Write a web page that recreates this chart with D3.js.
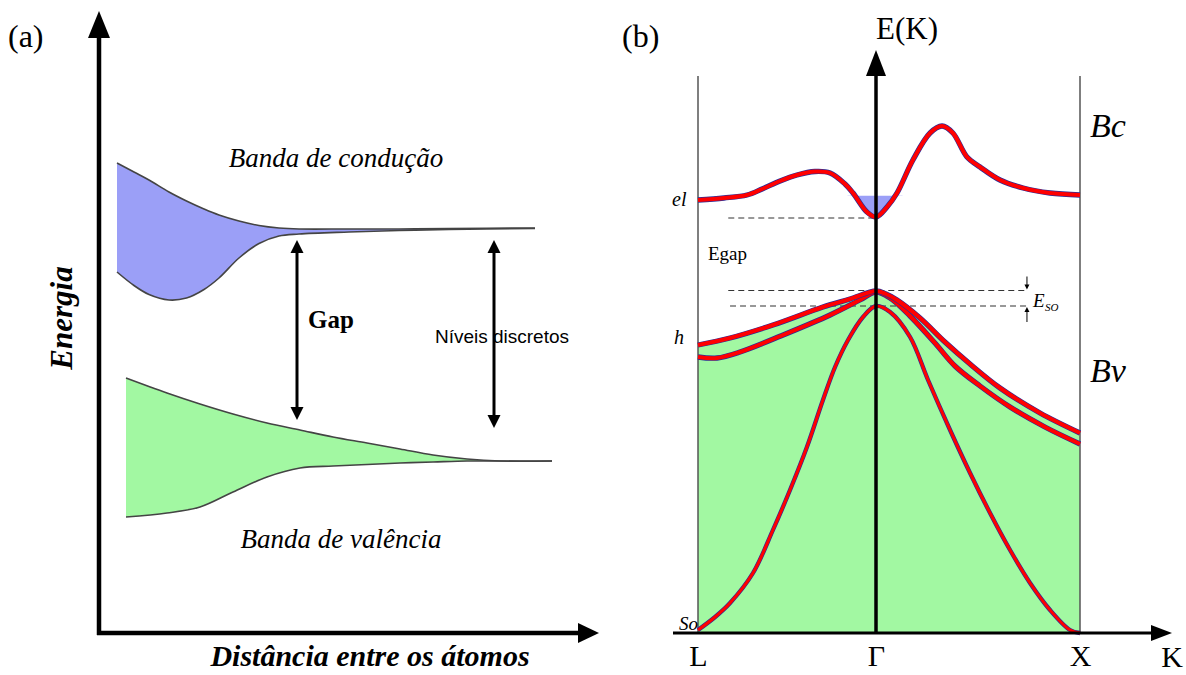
<!DOCTYPE html>
<html>
<head>
<meta charset="utf-8">
<script src="https://cdn.jsdelivr.net/npm/d3@7"></script>
<style>
  body { margin: 0; background: #fff; }
  svg { display: block; }
  text { font-family: "Liberation Serif", "Times New Roman", serif; fill: #000; }
</style>
</head>
<body>
<div id="chart"></div>
<script>
// ---------- panel (a): energy bands vs interatomic distance ----------
var distCond = [0.36, 0.7, 1.0, 1.4, 1.75, 2.1, 2.4, 2.8, 3.2, 3.6, 4.0, 5.0, 6.0, 7.0, 8.72];
var condTop  = [9.40, 9.22, 9.06, 8.82, 8.64, 8.48, 8.36, 8.24, 8.15, 8.10, 8.08, 8.08, 8.08, 8.09, 8.10];
var condBot  = [7.22, 6.95, 6.77, 6.66, 6.70, 6.87, 7.10, 7.50, 7.79, 7.94, 7.98, 8.02, 8.05, 8.07, 8.09];

var distVal = [0.54, 1.36, 2.02, 2.68, 3.36, 4.02, 4.68, 5.36, 6.02, 6.68, 7.36, 8.02, 9.06];
var valTop  = [5.10, 4.80, 4.58, 4.38, 4.20, 4.06, 3.92, 3.80, 3.68, 3.56, 3.48, 3.44, 3.44];
var valBot  = [2.32, 2.40, 2.52, 2.82, 3.12, 3.30, 3.34, 3.37, 3.40, 3.42, 3.44, 3.44, 3.44];

// double arrows: "Gap" and "Níveis discretos"
var arrowDist = [3.96, 7.9];
var arrowTop  = [7.86, 7.86];
var arrowBot  = [4.26, 4.10];

// ---------- panel (b): E(K) band structure ----------
var kTicks = [-1, 0, 1];
var kNames = ["L", "Γ", "X"];

var kCond = [-1, -0.854, -0.725, -0.640, -0.539, -0.444, -0.343, -0.258, -0.174, -0.129, -0.051, 0, 0.054, 0.103, 0.181, 0.265, 0.324, 0.377, 0.446, 0.510, 0.608, 0.721, 0.853, 1];
var eCond = [8.66, 8.70, 8.76, 8.88, 9.04, 9.16, 9.23, 9.20, 8.98, 8.80, 8.42, 8.32, 8.52, 8.80, 9.46, 10.00, 10.14, 10.00, 9.52, 9.32, 9.06, 8.90, 8.80, 8.76];
var wellLevel = 8.75;
var wellK = [-0.16, 0.13];

var kHH = [-1, -0.820, -0.579, -0.298, -0.146, 0, 0.049, 0.103, 0.216, 0.338, 0.461, 0.608, 0.804, 1];
var eHH = [5.76, 5.90, 6.16, 6.52, 6.68, 6.84, 6.78, 6.66, 6.30, 5.82, 5.38, 4.90, 4.40, 4.00];

var kLH = [-1, -0.893, -0.764, -0.522, -0.258, -0.090, 0, 0.069, 0.167, 0.289, 0.387, 0.510, 0.657, 0.828, 1];
var eLH = [5.52, 5.50, 5.62, 5.96, 6.36, 6.66, 6.82, 6.70, 6.34, 5.80, 5.34, 4.94, 4.52, 4.12, 3.78];

var kSO = [-1, -0.904, -0.820, -0.691, -0.579, -0.483, -0.388, -0.298, -0.230, -0.157, -0.073, 0, 0.069, 0.167, 0.255, 0.363, 0.461, 0.559, 0.657, 0.755, 0.853, 0.951, 1];
var eSO = [0.06, 0.32, 0.60, 1.20, 2.06, 2.86, 3.72, 4.66, 5.32, 5.86, 6.32, 6.54, 6.42, 5.92, 5.06, 4.06, 3.20, 2.40, 1.66, 1.00, 0.46, 0.06, 0.00];

// dashed reference levels (conduction minimum, valence top, split-off top)
var dashE  = [8.30, 6.85, 6.54];
var dashK0 = [-0.83, -0.83, -0.82];
var dashK1 = [0, 0.74, 0.74];
var esoK = 0.74;

var svgWidth = 1186, svgHeight = 675;
var svg = d3.select("#chart").append("svg")
  .attr("width", svgWidth)
  .attr("height", svgHeight);
svg.append("rect").attr("width", svgWidth).attr("height", svgHeight).attr("fill", "#fff");

var zip = (xs, ys) => xs.map((x, i) => [x, ys[i]]);
var smooth = d3.curveCatmullRom.alpha(0.5);

// ================= panel (a) =================
var xA = d3.scaleLinear().domain([0, 10]).range([99, 599]);
var yA = d3.scaleLinear().domain([0, 12.4]).range([633, 13]);
var gA = svg.append("g");

function drawBand(dist, top, bot, fill) {
  var rows = dist.map((d, i) => ({ d: d, t: top[i], b: bot[i] }));
  gA.append("path")
    .attr("d", d3.area().x(r => xA(r.d)).y0(r => yA(r.b)).y1(r => yA(r.t)).curve(smooth)(rows))
    .attr("fill", fill);
  [top, bot].forEach(function(arr) {
    gA.append("path")
      .attr("d", d3.line().x(r => xA(r.d)).y(r => yA(arr === top ? r.t : r.b)).curve(smooth)(rows))
      .attr("fill", "none")
      .attr("stroke", "#444")
      .attr("stroke-width", 1.6);
  });
}
drawBand(distCond, condTop, condBot, "#9b9ff7");
drawBand(distVal, valTop, valBot, "#a2f8a2");

// double-headed arrows
arrowDist.forEach(function(d, i) {
  var x = xA(d), y0 = yA(arrowTop[i]), y1 = yA(arrowBot[i]);
  gA.append("line").attr("x1", x).attr("x2", x).attr("y1", y0 + 8).attr("y2", y1 - 8)
    .attr("stroke", "#000").attr("stroke-width", 3);
  gA.append("path").attr("d", `M${x},${y0} L${x - 6.5},${y0 + 13} L${x + 6.5},${y0 + 13} Z`).attr("fill", "#000");
  gA.append("path").attr("d", `M${x},${y1} L${x - 6.5},${y1 - 13} L${x + 6.5},${y1 - 13} Z`).attr("fill", "#000");
});

// axes of (a)
gA.append("line").attr("x1", xA(0)).attr("x2", xA(0)).attr("y1", yA(0) + 2).attr("y2", 34)
  .attr("stroke", "#000").attr("stroke-width", 4.5);
gA.append("path").attr("d", `M${xA(0)},11 L${xA(0) - 11},38 L${xA(0) + 11},38 Z`).attr("fill", "#000");
gA.append("line").attr("x1", xA(0) - 2).attr("x2", 582).attr("y1", yA(0)).attr("y2", yA(0))
  .attr("stroke", "#000").attr("stroke-width", 4.5);
gA.append("path").attr("d", `M599,${yA(0)} L578,${yA(0) - 10} L578,${yA(0) + 10} Z`).attr("fill", "#000");

gA.append("text").attr("x", 8).attr("y", 47).attr("font-size", 32).text("(a)");
gA.append("text")
  .attr("transform", "translate(72,318) rotate(-90)")
  .attr("text-anchor", "middle")
  .attr("font-size", 31).attr("font-weight", "bold").attr("font-style", "italic")
  .text("Energia");
gA.append("text").attr("x", 370).attr("y", 666).attr("text-anchor", "middle")
  .attr("font-size", 30).attr("font-weight", "bold").attr("font-style", "italic")
  .text("Distância entre os átomos");
gA.append("text").attr("x", 336).attr("y", 167).attr("text-anchor", "middle")
  .attr("font-size", 27).attr("font-style", "italic").attr("fill", "#1a1a1a")
  .text("Banda de condução");
gA.append("text").attr("x", 341).attr("y", 548).attr("text-anchor", "middle")
  .attr("font-size", 27).attr("font-style", "italic").attr("fill", "#1a1a1a")
  .text("Banda de valência");
gA.append("text").attr("x", 308).attr("y", 328)
  .attr("font-size", 25).attr("font-weight", "bold")
  .text("Gap");
gA.append("text").attr("x", 502).attr("y", 343).attr("text-anchor", "middle")
  .style("font-family", "'Liberation Sans', Arial, sans-serif")
  .attr("font-size", 19).attr("fill", "#222")
  .text("Níveis discretos");

// ================= panel (b) =================
var xB = d3.scaleLinear().domain([-1, 0, 1]).range([698, 876, 1080]);
var yB = d3.scaleLinear().domain([0, 11]).range([633, 83]);
var gB = svg.append("g");

var bandLine = d3.line().x(d => xB(d[0])).y(d => yB(d[1])).curve(smooth);

// green valence region under the heavy-hole band
gB.append("path")
  .attr("d", d3.area().x(d => xB(d[0])).y0(yB(0)).y1(d => yB(d[1])).curve(smooth)(zip(kHH, eHH)))
  .attr("fill", "#a2f8a2");

// occupied well of the conduction band
gB.append("clipPath").attr("id", "wellClip")
  .append("rect").attr("x", xB(wellK[0])).attr("y", yB(wellLevel))
  .attr("width", xB(wellK[1]) - xB(wellK[0])).attr("height", yB(0) - yB(wellLevel));
gB.append("path")
  .attr("clip-path", "url(#wellClip)")
  .attr("d", d3.area().x(d => xB(d[0])).y0(yB(wellLevel)).y1(d => yB(d[1])).curve(smooth)(zip(kCond, eCond)))
  .attr("fill", "#9b9ff7");

// L and X boundary lines
kTicks.filter(k => k !== 0).forEach(function(k) {
  gB.append("line").attr("x1", xB(k)).attr("x2", xB(k)).attr("y1", 76).attr("y2", yB(0))
    .attr("stroke", "#555").attr("stroke-width", 1.5);
});

// dashed levels
dashE.forEach(function(e, i) {
  gB.append("line")
    .attr("x1", xB(dashK0[i])).attr("x2", xB(dashK1[i]))
    .attr("y1", yB(e)).attr("y2", yB(e))
    .attr("stroke", "#333").attr("stroke-width", 1.2)
    .attr("stroke-dasharray", "6,4");
});

// spin-orbit arrows
var xs = xB(esoK);
var yTop = yB(dashE[1]), yBot = yB(dashE[2]);
gB.append("line").attr("x1", xs).attr("x2", xs).attr("y1", yTop - 14).attr("y2", yTop - 3).attr("stroke", "#000").attr("stroke-width", 1);
gB.append("path").attr("d", `M${xs},${yTop - 1} L${xs - 2.5},${yTop - 6} L${xs + 2.5},${yTop - 6} Z`).attr("fill", "#000");
gB.append("line").attr("x1", xs).attr("x2", xs).attr("y1", yBot + 16).attr("y2", yBot + 3).attr("stroke", "#000").attr("stroke-width", 1);
gB.append("path").attr("d", `M${xs},${yBot + 1} L${xs - 2.5},${yBot + 6} L${xs + 2.5},${yBot + 6} Z`).attr("fill", "#000");

// bands (red with a thin dark-blue rim)
function drawRed(k, e, w) {
  var d = bandLine(zip(k, e));
  gB.append("path").attr("d", d).attr("fill", "none").attr("stroke", "#2c2c96").attr("stroke-width", w + 1.3);
  gB.append("path").attr("d", d).attr("fill", "none").attr("stroke", "#ff0000").attr("stroke-width", w);
}
drawRed(kSO, eSO, 3);
drawRed(kLH, eLH, 4);
drawRed(kHH, eHH, 4);
drawRed(kCond, eCond, 4);

// E(K) axis at Γ
gB.append("line").attr("x1", xB(0)).attr("x2", xB(0)).attr("y1", yB(0)).attr("y2", 72)
  .attr("stroke", "#000").attr("stroke-width", 3.5);
gB.append("path").attr("d", `M${xB(0)},50 L${xB(0) - 10},76 L${xB(0) + 10},76 Z`).attr("fill", "#000");

// K axis
gB.append("line").attr("x1", 673).attr("x2", 1155).attr("y1", yB(0)).attr("y2", yB(0))
  .attr("stroke", "#000").attr("stroke-width", 3);
gB.append("path").attr("d", `M1172,${yB(0)} L1151,${yB(0) - 8} L1151,${yB(0) + 8} Z`).attr("fill", "#000");

var axisG = gB.append("g")
  .attr("transform", `translate(0,${yB(0)})`)
  .call(d3.axisBottom(xB).tickValues(kTicks).tickFormat((d, i) => kNames[i]).tickSize(0).tickPadding(12));
axisG.select(".domain").remove();
axisG.selectAll("text")
  .attr("font-size", 30)
  .style("font-family", "'Liberation Serif', 'Times New Roman', serif")
  .attr("fill", "#000");

gB.append("text").attr("x", 1172).attr("y", 667).attr("text-anchor", "middle").attr("font-size", 30).text("K");
gB.append("text").attr("x", 622).attr("y", 47).attr("font-size", 32).text("(b)");
gB.append("text").attr("x", 907).attr("y", 39).attr("text-anchor", "middle").attr("font-size", 31).text("E(K)");
gB.append("text").attr("x", 1090).attr("y", 137).attr("font-size", 34).attr("font-style", "italic").text("Bc");
gB.append("text").attr("x", 1090).attr("y", 382).attr("font-size", 34).attr("font-style", "italic").text("Bv");
gB.append("text").attr("x", 672).attr("y", 206).attr("font-size", 20).attr("font-style", "italic").text("el");
gB.append("text").attr("x", 674).attr("y", 344).attr("font-size", 20).attr("font-style", "italic").text("h");
gB.append("text").attr("x", 679).attr("y", 630).attr("font-size", 19).attr("font-style", "italic").text("So");
gB.append("text").attr("x", 708).attr("y", 260).attr("font-size", 19).text("Egap");
gB.append("text").attr("x", 1033).attr("y", 307).attr("font-size", 19).attr("font-style", "italic").text("E");
gB.append("text").attr("x", 1045).attr("y", 311).attr("font-size", 11).attr("font-style", "italic").text("SO");
</script>
</body>
</html>
